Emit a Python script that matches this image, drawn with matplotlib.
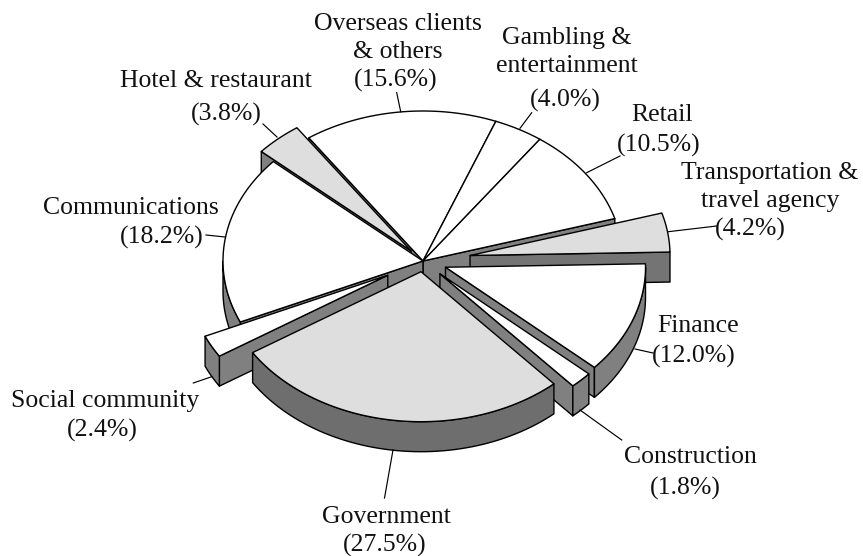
import numpy as np
import matplotlib
matplotlib.use('Agg')
import matplotlib.pyplot as plt
from matplotlib.patches import Polygon

plt.rcParams['font.family'] = ['Liberation Serif', 'DejaVu Serif']

# share of each sector, clockwise, starting from the top left
sectors = ['Overseas clients\n& others', 'Gambling &\nentertainment', 'Retail',
           'Transportation &\ntravel agency', 'Finance', 'Construction',
           'Government', 'Social community', 'Communications', 'Hotel & restaurant']
shares = [15.6, 4.0, 10.5, 4.2, 12.0, 1.8, 27.5, 2.4, 18.2, 3.8]

# how the pie is drawn
explode = [0, 0, 0, 47.6, 24, 24, 14.4, 40, 0, 18]
tops = ['white', 'white', 'white', '#dedede', 'white', 'white', '#dedede', 'white', 'white', '#dedede']
walls = ['#808080', '#808080', '#808080', '#747474', '#808080', '#808080', '#6e6e6e', '#808080', '#808080', '#808080']
draw_order = [0, 1, 2, 9, 8, 3, 4, 7, 5, 6]
cx, cy = 423, 261
rx, ry = 200, 150
depth = 30
start_angle = -34.8
lw = 1.0

# label placement: last baseline of the name, baseline of the percent line
name_xy = [(398, 58), (567, 72), (662, 120.7), (770, 207), (698, 332), (690, 463), (386.5, 522.7), (105, 406.7), (131, 214), (216, 87)]
pct_xy = [(396, 87), (565, 107), (659, 151.7), (750, 236), (694, 363), (685, 495), (384.5, 551.7), (102, 436.7), (162, 244), (226, 121)]
leaders = [((396.7, 92.7), (400.7, 111.7)), ((531.7, 112.7), (520, 128.3)), ((620, 156), (586.7, 172.7)),
           ((716.7, 226), (668.3, 231.7)), ((653, 353), (635, 349)), ((621.7, 440), (580, 410)),
           ((393, 450), (384.5, 498)), ((211.7, 376.7), (193.3, 383)), ((206, 235), (225, 237)),
           ((277, 137), (263, 124))]


def ell(ang, ox, oy):
    a = np.radians(ang)
    return ox + rx * np.sin(a), oy - ry * np.cos(a)


def draw_slice(ax, i, a0, a1):
    mid = np.radians((a0 + a1) / 2)
    ox = cx + explode[i] * np.sin(mid)
    oy = cy - explode[i] * ry / rx * np.cos(mid)
    kw = dict(edgecolor='black', linewidth=lw, joinstyle='round')
    # cut faces that look towards the viewer
    for ang, vis in ((a0, np.sin(np.radians(a0)) < 0), (a1, np.sin(np.radians(a1)) > 0)):
        if vis:
            x, y = ell(ang, ox, oy)
            ax.add_patch(Polygon([(ox, oy), (x, y), (x, y + depth), (ox, oy + depth)],
                                 facecolor=walls[i], **kw))
    # outer wall, front half only
    lo = max(a0, 90)
    hi = min(a1, 270)
    if lo < hi:
        th = np.linspace(lo, hi, 60)
        x, y = ell(th, ox, oy)
        pts = list(zip(x, y)) + list(zip(x[::-1], y[::-1] + depth))
        ax.add_patch(Polygon(pts, facecolor=walls[i], **kw))
    # top
    th = np.linspace(a0, a1, 80)
    x, y = ell(th, ox, oy)
    ax.add_patch(Polygon([(ox, oy)] + list(zip(x, y)), facecolor=tops[i], **kw))


fig = plt.figure(figsize=(8.63, 5.56), dpi=100)
ax = fig.add_axes([0, 0, 1, 1])
ax.set_xlim(0, 863)
ax.set_ylim(556, 0)
ax.axis('off')

edges = start_angle + np.concatenate([[0], np.cumsum(shares)]) * 3.6
for i in draw_order:
    draw_slice(ax, i, edges[i], edges[i + 1])

for i in range(len(sectors)):
    ax.plot(*zip(*leaders[i]), color='black', lw=lw * 0.85)
    ax.text(name_xy[i][0], name_xy[i][1], sectors[i], ha='center', va='baseline',
            fontsize=18.5, linespacing=1.33, color='#111111')
    ax.text(pct_xy[i][0], pct_xy[i][1], f'({shares[i]:.1f}%)', ha='center', va='baseline',
            fontsize=18.5, color='#111111')

fig.savefig('out.png', dpi=100)
